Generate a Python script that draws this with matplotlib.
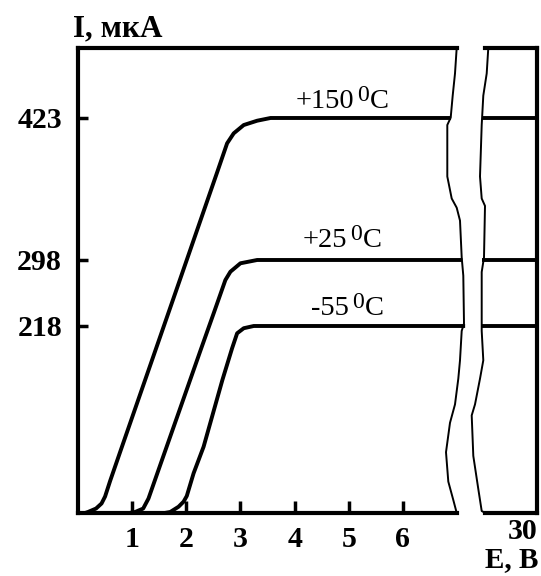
import numpy as np
import matplotlib
matplotlib.use("Agg")
import matplotlib.pyplot as plt
from matplotlib.lines import Line2D

plt.rcParams['font.family'] = ['Liberation Serif', 'DejaVu Serif']
plt.rcParams['font.weight'] = 'bold'

# ---------------- data ----------------
# I-V curves: E (V) vs I (uA)
E_150 = [0.13, 0.185, 0.333, 0.435, 0.50, 0.593, 0.778, 1.148, 1.519, 1.889, 2.135,
         2.383, 2.568, 2.754, 2.876, 3.061, 3.309, 3.556, 6.89]
I_150 = [0.0, 1.2, 5.2, 11.1, 19.2, 37.3, 71.1, 138.4, 205.8, 275.3, 315.4,
         349.5, 374.9, 400.7, 409.5, 416.8, 420.6, 423, 423]

E_25 = [0.95, 1.056, 1.204, 1.302, 1.519, 1.889, 2.259, 2.506, 2.722, 2.815, 3.0, 3.309, 7.10]
I_25 = [0.0, 1.2, 5.2, 16.9, 56.0, 122.4, 188.9, 233.4, 273.7, 283.8, 294.0, 298, 298]

E_m55 = [1.6, 1.704, 1.857, 1.95, 2.009, 2.135, 2.32, 2.667, 2.846, 2.939, 3.061, 3.246, 7.15]
I_m55 = [0.0, 1.2, 7.3, 13.2, 19.8, 46.3, 77.3, 155.1, 192.0, 209.5, 215.4, 218, 218]

# saturation currents continued at far E (around 30 V)
E_far = [27.85, 30.77]
I_sat = [423, 298, 218]

labels = ['+150', '+25', '-55']
y_ticks = [218, 298, 423]
x_ticks = [1, 2, 3, 4, 5, 6]
x_far_ticks = [30]

# non-uniform ordinate of the original drawing (piecewise linear)
I_knots = [0, 218, 298, 423, 600]
pos_knots = [0, 187, 253, 395, 596.1]


def fwd(v):
    return np.interp(v, I_knots, pos_knots)


def inv(p):
    return np.interp(p, pos_knots, I_knots)


W, H = 541, 576
fig = plt.figure(figsize=(W / 100, H / 100), dpi=100)

ax = fig.add_axes([78 / W, 1 - 513 / H, (457 - 78) / W, 465 / H])
axr = fig.add_axes([485 / W, 1 - 513 / H, (537 - 485) / W, 465 / H])

for a in (ax, axr):
    a.set_yscale('function', functions=(fwd, inv))
    a.set_ylim(0, 484.6)
    for s in a.spines.values():
        s.set_linewidth(3.0)

ax.set_xlim(0, 7)
axr.set_xlim(28, 30.77)
ax.spines['right'].set_visible(False)
axr.spines['left'].set_visible(False)

lw = 2.8
ax.plot(E_150, I_150, color='black', lw=lw, clip_on=False, solid_capstyle='butt')
ax.plot(E_25, I_25, color='black', lw=lw, clip_on=False, solid_capstyle='butt')
ax.plot(E_m55, I_m55, color='black', lw=lw, clip_on=False, solid_capstyle='butt')
for lev in I_sat:
    axr.plot(E_far, [lev, lev], color='black', lw=lw, clip_on=False, solid_capstyle='butt')

# ticks
ax.set_yticks(y_ticks)
ax.set_yticklabels([str(v) for v in y_ticks])
ax.set_xticks(x_ticks)
ax.set_xticklabels([str(v) for v in x_ticks])
ax.tick_params(axis='y', direction='in', length=7.2, width=2.5, pad=11.5, labelsize=21.5)
ax.tick_params(axis='x', direction='in', length=8.6, width=2.5, pad=9.5, labelsize=21.5)
ax.yaxis.set_minor_locator(matplotlib.ticker.NullLocator())
ax.xaxis.set_minor_locator(matplotlib.ticker.NullLocator())

axr.set_yticks([])
axr.yaxis.set_minor_locator(matplotlib.ticker.NullLocator())
axr.set_xticks(x_far_ticks)
axr.set_xticklabels([str(v) for v in x_far_ticks])
axr.xaxis.set_minor_locator(matplotlib.ticker.NullLocator())
axr.tick_params(axis='x', direction='in', length=0, pad=3.5, labelsize=21.5)

# curve labels with degree-like superscript 0
lab_x = [4.02, 4.14, 4.30]
lab_dy = [10, 13, 11]
for txt, lev, lx, dy in zip(labels, I_sat, lab_x, lab_dy):
    t1 = ax.annotate(txt, xy=(lx, lev), xytext=(0, dy), textcoords='offset pixels',
                     ha='left', va='baseline', fontsize=20.5, fontweight='normal')
    t2 = ax.annotate('0', xy=(1, 0), xycoords=t1, xytext=(3, 8),
                     textcoords='offset pixels', ha='left', va='bottom', fontsize=17,
                     fontweight='normal')
    ax.annotate('C', xy=(1, 0), xycoords=(t2, t1), xytext=(1, 0),
                textcoords='offset pixels', ha='left', va='bottom', fontsize=20.5,
                fontweight='normal')

# axis titles
fig.text(73 / W, 1 - 36 / H, 'I, мкА', ha='left', va='baseline', fontsize=22.5)
fig.text(538 / W, 1 - 567 / H, 'E, B', ha='right', va='baseline', fontsize=21)

# axis break (wavy lines), figure pixel coordinates
brk_left = [(456.7, 47.8), (455, 73.5), (452.7, 95.6), (450.7, 117.6), (447.3, 125),
            (447.3, 176.5), (451.7, 198.5), (456.7, 207.7), (460, 220.6), (461.7, 257.4),
            (463.3, 275.7), (464, 323.5), (461.7, 330.9), (460, 360.3), (458.3, 378.7),
            (455, 404.4), (450, 422.8), (446, 452.2), (448.3, 481.6), (453.3, 500),
            (456.7, 512.9)]
brk_right = [(488.3, 47.8), (486.7, 73.5), (483.3, 95.6), (481.7, 125), (480, 176.5),
             (481.7, 198.5), (485, 205.9), (484, 257.4), (481.7, 272), (481.7, 330.9),
             (483.3, 360.3), (480, 378.7), (475, 404.4), (471.7, 415.4), (473.3, 455.9),
             (478.3, 489), (481.7, 511), (485, 512.9)]
for pts in (brk_left, brk_right):
    xs = [p[0] / W for p in pts]
    ys = [1 - p[1] / H for p in pts]
    fig.add_artist(Line2D(xs, ys, transform=fig.transFigure, color='black', lw=1.4))

fig.savefig('out.png', dpi=100, facecolor='white')
